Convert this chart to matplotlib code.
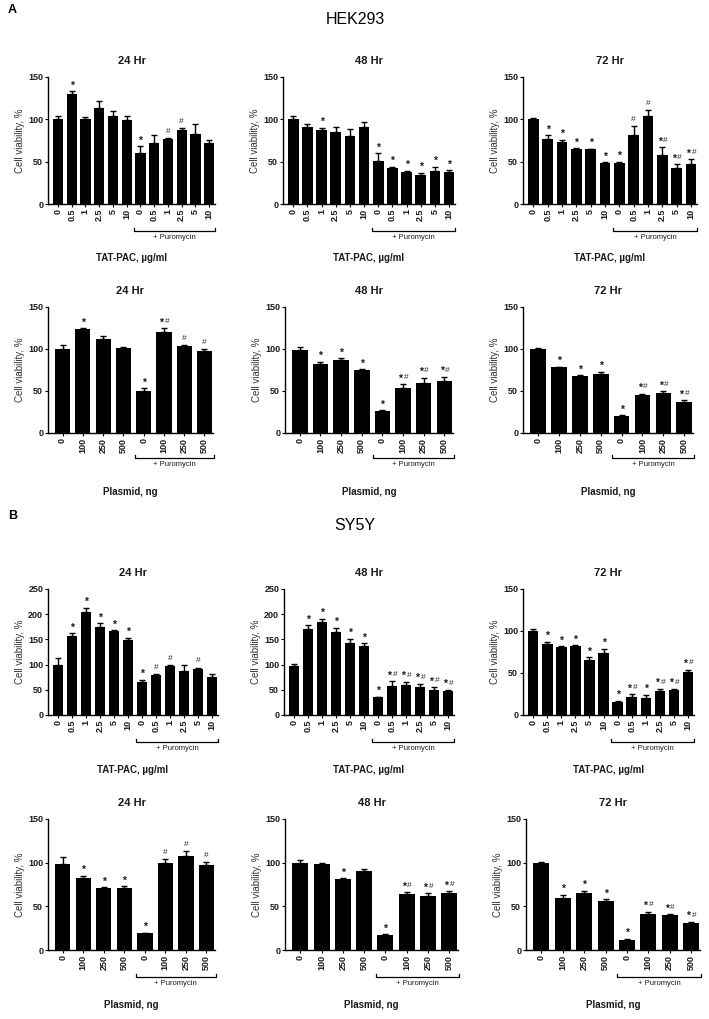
import numpy as np
import matplotlib.pyplot as plt

plt.rcParams['font.family'] = ['Liberation Sans', 'DejaVu Sans']

W, H = 709, 1019

tat_doses = ['0', '0.5', '1', '2.5', '5', '10'] * 2
plasmid_doses = ['0', '100', '250', '500'] * 2

# HEK293, TAT-PAC (ug/ml), no puromycin then + puromycin
hek_tat_24 = [100, 130, 100, 113, 104, 99, 60, 72, 77, 87, 83, 72]
hek_tat_24_err = [4, 3, 3, 9, 6, 5, 8, 10, 1, 3, 11, 4]
hek_tat_24_sig = ['', '*', '', '', '', '', '*', '', '#', '#', '', '']

hek_tat_48 = [100, 91, 87, 85, 80, 91, 51, 43, 38, 34, 39, 38]
hek_tat_48_err = [4, 3, 3, 6, 9, 6, 9, 1, 1, 3, 5, 2]
hek_tat_48_sig = ['', '', '*', '', '', '', '*', '*', '*', '*', '*', '*']

hek_tat_72 = [100, 77, 73, 65, 65, 49, 49, 82, 104, 58, 43, 47]
hek_tat_72_err = [1, 4, 3, 1, 0.5, 0.5, 1, 10, 7, 9, 4, 6]
hek_tat_72_sig = ['', '*', '*', '*', '*', '*', '*', '#', '#', '*#', '*#', '*#']

# HEK293, plasmid (ng)
hek_pl_24 = [100, 124, 112, 101, 50, 120, 104, 98]
hek_pl_24_err = [5, 1, 3, 1, 3, 5, 1, 2]
hek_pl_24_sig = ['', '*', '', '', '*', '*#', '#', '#']

hek_pl_48 = [99, 82, 87, 75, 26, 54, 59, 62]
hek_pl_48_err = [3, 3, 2, 1, 1, 4, 7, 5]
hek_pl_48_sig = ['', '*', '*', '*', '*', '*#', '*#', '*#']

hek_pl_72 = [100, 78, 68, 70, 20, 45, 48, 37]
hek_pl_72_err = [1, 1, 1, 3, 1, 2, 2, 2]
hek_pl_72_sig = ['', '*', '*', '*', '*', '*#', '*#', '*#']

# SY5Y, TAT-PAC (ug/ml)
sy_tat_24 = [99, 157, 205, 175, 166, 148, 65, 80, 98, 87, 92, 75]
sy_tat_24_err = [15, 5, 8, 7, 2, 5, 5, 2, 1, 13, 2, 7]
sy_tat_24_sig = ['', '*', '*', '*', '*', '*', '*', '#', '#', '', '#', '']

sy_tat_48 = [98, 171, 185, 164, 142, 137, 35, 58, 60, 55, 50, 48]
sy_tat_48_err = [3, 7, 6, 9, 9, 5, 1, 9, 6, 7, 5, 2]
sy_tat_48_sig = ['', '*', '*', '*', '*', '*', '*', '*#', '*#', '*#', '*#', '*#']

sy_tat_72 = [100, 84, 81, 82, 65, 74, 16, 22, 20, 29, 30, 51]
sy_tat_72_err = [2, 3, 1, 1, 4, 5, 1, 3, 4, 2, 1, 3]
sy_tat_72_sig = ['', '*', '*', '*', '*', '*', '*', '*#', '*', '*#', '*#', '*#']

# SY5Y, plasmid (ng)
sy_pl_24 = [99, 82, 71, 71, 19, 100, 108, 97]
sy_pl_24_err = [8, 3, 1, 2, 1, 4, 5, 4]
sy_pl_24_sig = ['', '*', '*', '*', '*', '#', '#', '#']

sy_pl_48 = [100, 98, 81, 90, 17, 64, 62, 65]
sy_pl_48_err = [3, 2, 1, 3, 1, 2, 3, 2]
sy_pl_48_sig = ['', '', '*', '', '*', '*#', '*#', '*#']

sy_pl_72 = [100, 60, 65, 56, 12, 41, 40, 31]
sy_pl_72_err = [1, 3, 3, 2, 0.5, 3, 1, 1]
sy_pl_72_sig = ['', '*', '*', '*', '*', '*#', '*#', '*#']

titles = ['24 Hr', '48 Hr', '72 Hr']

# (left, right) per column, top/bottom per row, in pixels
rows = [
    dict(top=77, bottom=204, cols=[(48, 215), (283, 455), (523, 697)],
         labels=tat_doses, xlabel='TAT-PAC, \u00b5g/ml', ymaxes=[150, 150, 150],
         data=[(hek_tat_24, hek_tat_24_err, hek_tat_24_sig),
               (hek_tat_48, hek_tat_48_err, hek_tat_48_sig),
               (hek_tat_72, hek_tat_72_err, hek_tat_72_sig)],
         brk=27, xl=54),
    dict(top=307, bottom=433, cols=[(48, 213), (285, 453), (523, 693)],
         labels=plasmid_doses, xlabel='Plasmid, ng', ymaxes=[150, 150, 150],
         data=[(hek_pl_24, hek_pl_24_err, hek_pl_24_sig),
               (hek_pl_48, hek_pl_48_err, hek_pl_48_sig),
               (hek_pl_72, hek_pl_72_err, hek_pl_72_sig)],
         brk=25, xl=59),
    dict(top=589, bottom=715, cols=[(48, 218), (284, 454), (523, 694)],
         labels=tat_doses, xlabel='TAT-PAC, \u00b5g/ml', ymaxes=[250, 250, 150],
         data=[(sy_tat_24, sy_tat_24_err, sy_tat_24_sig),
               (sy_tat_48, sy_tat_48_err, sy_tat_48_sig),
               (sy_tat_72, sy_tat_72_err, sy_tat_72_sig)],
         brk=27, xl=55),
    dict(top=819, bottom=950, cols=[(48, 215), (285, 458), (526, 700)],
         labels=plasmid_doses, xlabel='Plasmid, ng', ymaxes=[150, 150, 150],
         data=[(sy_pl_24, sy_pl_24_err, sy_pl_24_sig),
               (sy_pl_48, sy_pl_48_err, sy_pl_48_sig),
               (sy_pl_72, sy_pl_72_err, sy_pl_72_sig)],
         brk=27, xl=55),
]

fig = plt.figure(figsize=(W / 100, H / 100), dpi=100)
txt = '#1a1a1a'


def put_sig(ax, xi, y, s):
    # star drawn as a heavy dot-like asterisk, hash beside it
    offs = [0] if len(s) == 1 else [-2.0, 2.2]
    for ch, dx in zip(s, offs):
        if ch == '*':
            ax.annotate('*', (xi, y), xytext=(dx, -1.8), textcoords='offset points',
                        ha='center', va='bottom', fontsize=7.5, fontweight='bold', color=txt)
        else:
            ax.annotate('#', (xi, y), xytext=(dx, 0), textcoords='offset points',
                        ha='center', va='bottom', fontsize=6, color='#2a2a2a')


for row in rows:
    for (l, r), title, ymax, (vals, errs, sigs) in zip(row['cols'], titles, row['ymaxes'], row['data']):
        ax = fig.add_axes([l / W, 1 - row['bottom'] / H, (r - l) / W, (row['bottom'] - row['top']) / H])
        hpx = row['bottom'] - row['top']
        n = len(vals)
        x = np.arange(n)
        ax.bar(x, vals, width=0.75, color='black', zorder=2)
        ax.errorbar(x, vals, yerr=[np.zeros(n), errs], fmt='none', ecolor='black',
                    elinewidth=1, capsize=2, capthick=1, zorder=3)
        for xi, v, e, s in zip(x, vals, errs, sigs):
            if s:
                put_sig(ax, xi, v + e + ymax * 0.025, s)
        ax.set_xlim(-0.72, n - 0.58)
        ax.set_ylim(0, ymax)
        ax.set_yticks(np.arange(0, ymax + 1, 50))
        ax.set_xticks(x)
        ax.set_xticklabels(row['labels'], rotation=90, fontsize=6.5, color=txt)
        ax.tick_params(axis='y', labelsize=6.5, labelcolor=txt, length=2.5, width=0.8, pad=1)
        ax.tick_params(axis='x', length=2, width=0.8, pad=1.5)
        for lab in ax.get_yticklabels() + ax.get_xticklabels():
            lab.set_fontweight('bold')
        for side in ['top', 'right']:
            ax.spines[side].set_visible(False)
        for side in ['left', 'bottom']:
            ax.spines[side].set_linewidth(1)
        ax.set_ylabel('Cell viability, %', fontsize=7, color='#333333', labelpad=2)
        ax.set_title(title, fontsize=8, fontweight='bold', color=txt, pad=9)

        # bracket under the puromycin group
        half = n // 2
        tr = ax.get_xaxis_transform()
        yb = -row['brk'] / hpx
        tk = 3 / hpx
        x0, x1 = half - 0.45, n - 0.55
        ax.plot([x0, x0, x1, x1], [yb + tk, yb, yb, yb + tk], transform=tr,
                color='black', lw=0.9, clip_on=False)
        ax.text((x0 + x1) / 2, yb - 3 / hpx, '+ Puromycin', transform=tr,
                ha='center', va='top', fontsize=5.5, color=txt)
        ax.text(0.5, -row['xl'] / hpx, row['xlabel'], transform=ax.transAxes,
                ha='center', va='center', fontsize=7, fontweight='bold', color=txt)

fig.text(8 / W, 1 - 10 / H, 'A', fontsize=9, fontweight='bold', va='center')
fig.text(355 / W, 1 - 20 / H, 'HEK293', fontsize=11.5, ha='center', va='center')
fig.text(8 / W, 1 - 516 / H, 'B', fontsize=9, fontweight='bold', va='center')
fig.text(355 / W, 1 - 526 / H, 'SY5Y', fontsize=11.5, ha='center', va='center')

fig.savefig('out.png', dpi=100, facecolor='white')
